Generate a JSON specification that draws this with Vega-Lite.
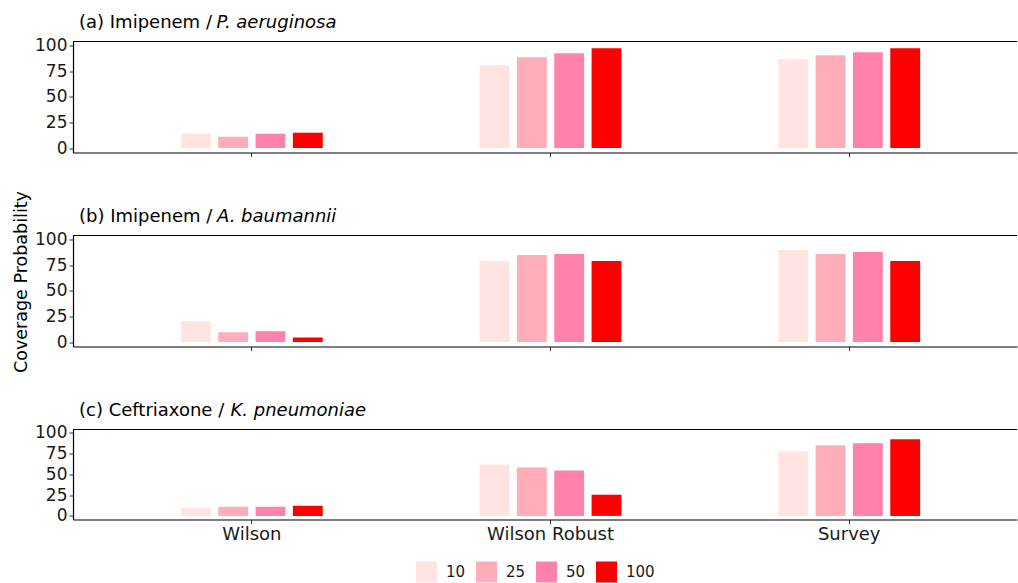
{
  "$schema": "https://vega.github.io/schema/vega-lite/v6.json",
  "padding": {"left": 11, "top": 13.5, "right": 0, "bottom": 0},
  "bounds": "flush",
  "spacing": 83,
  "datasets": {
    "coverage": [
      {"panel": "a", "method": "Wilson", "n": "10", "coverage": 13.9},
      {"panel": "a", "method": "Wilson", "n": "25", "coverage": 11.0},
      {"panel": "a", "method": "Wilson", "n": "50", "coverage": 13.9},
      {"panel": "a", "method": "Wilson", "n": "100", "coverage": 14.9},
      {"panel": "a", "method": "Wilson Robust", "n": "10", "coverage": 80.9},
      {"panel": "a", "method": "Wilson Robust", "n": "25", "coverage": 88.6},
      {"panel": "a", "method": "Wilson Robust", "n": "50", "coverage": 92.5},
      {"panel": "a", "method": "Wilson Robust", "n": "100", "coverage": 97.4},
      {"panel": "a", "method": "Survey", "n": "10", "coverage": 86.7},
      {"panel": "a", "method": "Survey", "n": "25", "coverage": 90.6},
      {"panel": "a", "method": "Survey", "n": "50", "coverage": 93.5},
      {"panel": "a", "method": "Survey", "n": "100", "coverage": 97.4},
      {"panel": "b", "method": "Wilson", "n": "10", "coverage": 20.3},
      {"panel": "b", "method": "Wilson", "n": "25", "coverage": 9.5},
      {"panel": "b", "method": "Wilson", "n": "50", "coverage": 10.5},
      {"panel": "b", "method": "Wilson", "n": "100", "coverage": 4.6},
      {"panel": "b", "method": "Wilson Robust", "n": "10", "coverage": 79.1},
      {"panel": "b", "method": "Wilson Robust", "n": "25", "coverage": 85.0},
      {"panel": "b", "method": "Wilson Robust", "n": "50", "coverage": 86.0},
      {"panel": "b", "method": "Wilson Robust", "n": "100", "coverage": 79.1},
      {"panel": "b", "method": "Survey", "n": "10", "coverage": 89.9},
      {"panel": "b", "method": "Survey", "n": "25", "coverage": 86.0},
      {"panel": "b", "method": "Survey", "n": "50", "coverage": 88.0},
      {"panel": "b", "method": "Survey", "n": "100", "coverage": 79.1},
      {"panel": "c", "method": "Wilson", "n": "10", "coverage": 9.7},
      {"panel": "c", "method": "Wilson", "n": "25", "coverage": 10.9},
      {"panel": "c", "method": "Wilson", "n": "50", "coverage": 10.9},
      {"panel": "c", "method": "Wilson", "n": "100", "coverage": 12.1},
      {"panel": "c", "method": "Wilson Robust", "n": "10", "coverage": 61.9},
      {"panel": "c", "method": "Wilson Robust", "n": "25", "coverage": 58.3},
      {"panel": "c", "method": "Wilson Robust", "n": "50", "coverage": 54.6},
      {"panel": "c", "method": "Wilson Robust", "n": "100", "coverage": 25.5},
      {"panel": "c", "method": "Survey", "n": "10", "coverage": 77.7},
      {"panel": "c", "method": "Survey", "n": "25", "coverage": 85.0},
      {"panel": "c", "method": "Survey", "n": "50", "coverage": 87.4},
      {"panel": "c", "method": "Survey", "n": "100", "coverage": 92.2}
    ],
    "border": [{"top": 104}]
  },
  "vconcat": [
    {
      "width": 944,
      "height": 111,
      "title": {"text": "(a) Imipenem /", "dy": 32},
      "layer": [
        {
          "data": {"name": "coverage"},
          "transform": [{"filter": "datum.panel == 'a'"}],
          "mark": "bar",
          "encoding": {
            "x": {
              "field": "method", "type": "nominal", "sort": ["Wilson", "Wilson Robust", "Survey"],
              "scale": {"paddingInner": 0.5251, "paddingOuter": 0.3428, "align": 0.527},
              "axis": {"labels": false, "title": "P. aeruginosa", "titleX": 143, "titleY": -125}
            },
            "xOffset": {"field": "n", "type": "nominal", "sort": ["10", "25", "50", "100"], "scale": {"paddingInner": 0.2, "paddingOuter": 0}},
            "y": {
              "field": "coverage", "type": "quantitative",
              "scale": {"domain": [-4.3, 104], "nice": false, "zero": false},
              "axis": {"values": [0, 25, 50, 75, 100], "title": null, "labelOverlap": false}
            },
            "color": {"field": "n", "type": "nominal", "sort": ["10", "25", "50", "100"],
              "scale": {"domain": ["10", "25", "50", "100"], "range": ["#FFE4E1", "#FFAEB9", "#FF82AB", "#FF0000"]}}
          }
        },
        {
          "data": {"name": "border"},
          "mark": {"type": "rule", "color": "black", "strokeWidth": 1.2},
          "encoding": {"y": {"field": "top", "type": "quantitative",
            "axis": {"values": [0, 25, 50, 75, 100], "title": null, "labelOverlap": false}}}
        }
      ]
    },
    {
      "width": 944,
      "height": 111,
      "title": {"text": "(b) Imipenem /", "dy": 49},
      "layer": [
        {
          "data": {"name": "coverage"},
          "transform": [{"filter": "datum.panel == 'b'"}],
          "mark": "bar",
          "encoding": {
            "x": {
              "field": "method", "type": "nominal", "sort": ["Wilson", "Wilson Robust", "Survey"],
              "scale": {"paddingInner": 0.5251, "paddingOuter": 0.3428, "align": 0.527},
              "axis": {"labels": false, "title": "A. baumannii", "titleX": 143.5, "titleY": -125}
            },
            "xOffset": {"field": "n", "type": "nominal", "sort": ["10", "25", "50", "100"], "scale": {"paddingInner": 0.2, "paddingOuter": 0}},
            "y": {
              "field": "coverage", "type": "quantitative",
              "scale": {"domain": [-4.3, 104], "nice": false, "zero": false},
              "axis": {
                "values": [0, 25, 50, 75, 100], "labelOverlap": false, "title": "Coverage Probability",
                "titleX": -52, "titleY": 46, "titleAngle": -90, "titleAlign": "center", "titleBaseline": "middle",
                "titleFontSize": 17.5
              }
            },
            "color": {"field": "n", "type": "nominal", "sort": ["10", "25", "50", "100"]}
          }
        },
        {
          "data": {"name": "border"},
          "mark": {"type": "rule", "color": "black", "strokeWidth": 1.2},
          "encoding": {"y": {"field": "top", "type": "quantitative",
            "axis": {
              "values": [0, 25, 50, 75, 100], "labelOverlap": false, "title": "Coverage Probability",
              "titleX": -52, "titleY": 46, "titleAngle": -90, "titleAlign": "center", "titleBaseline": "middle",
              "titleFontSize": 17.5
            }}}
        }
      ]
    },
    {
      "width": 944,
      "height": 90,
      "title": {"text": "(c) Ceftriaxone /", "dy": 32},
      "layer": [
        {
          "data": {"name": "coverage"},
          "transform": [{"filter": "datum.panel == 'c'"}],
          "mark": "bar",
          "encoding": {
            "x": {
              "field": "method", "type": "nominal", "sort": ["Wilson", "Wilson Robust", "Survey"],
              "scale": {"paddingInner": 0.5251, "paddingOuter": 0.3428, "align": 0.527},
              "axis": {"labels": true, "labelFontSize": 18, "labelAngle": 0, "labelPadding": 2,
                "title": "K. pneumoniae", "titleX": 157, "titleY": -104}
            },
            "xOffset": {"field": "n", "type": "nominal", "sort": ["10", "25", "50", "100"], "scale": {"paddingInner": 0.2, "paddingOuter": 0}},
            "y": {
              "field": "coverage", "type": "quantitative",
              "scale": {"domain": [-4.3, 104], "nice": false, "zero": false},
              "axis": {"values": [0, 25, 50, 75, 100], "title": null, "labelOverlap": false}
            },
            "color": {"field": "n", "type": "nominal", "sort": ["10", "25", "50", "100"],
              "legend": {
                "orient": "none", "legendX": 343, "legendY": 520, "direction": "horizontal",
                "title": null, "symbolType": "square", "symbolSize": 441, "symbolStrokeWidth": 0,
                "labelFontSize": 15, "labelOffset": 9, "columnPadding": 10, "padding": 0
              }}
          }
        },
        {
          "data": {"name": "border"},
          "mark": {"type": "rule", "color": "black", "strokeWidth": 1.2},
          "encoding": {"y": {"field": "top", "type": "quantitative",
            "axis": {"values": [0, 25, 50, 75, 100], "title": null, "labelOverlap": false}}}
        }
      ]
    }
  ],
  "config": {
    "font": "DejaVu Sans",
    "view": {"stroke": null},
    "title": {"fontSize": 18, "fontWeight": "normal", "anchor": "start", "frame": "group", "color": "black", "baseline": "alphabetic", "offset": 14, "dx": 6},
    "axis": {
      "grid": false, "domainColor": "black", "domainWidth": 1.2, "tickColor": "#333333", "tickSize": 4,
      "labelFontSize": 17, "labelColor": "#1a1a1a", "labelPadding": 2, "labelOverlap": false,
      "titleFontSize": 18, "titleFontWeight": "normal", "titleColor": "black"
    },
    "axisX": {"titleFontStyle": "italic", "titleAlign": "left", "titleBaseline": "alphabetic", "titleAngle": 0},
    "legend": {"labelColor": "#1a1a1a"}
  }
}
